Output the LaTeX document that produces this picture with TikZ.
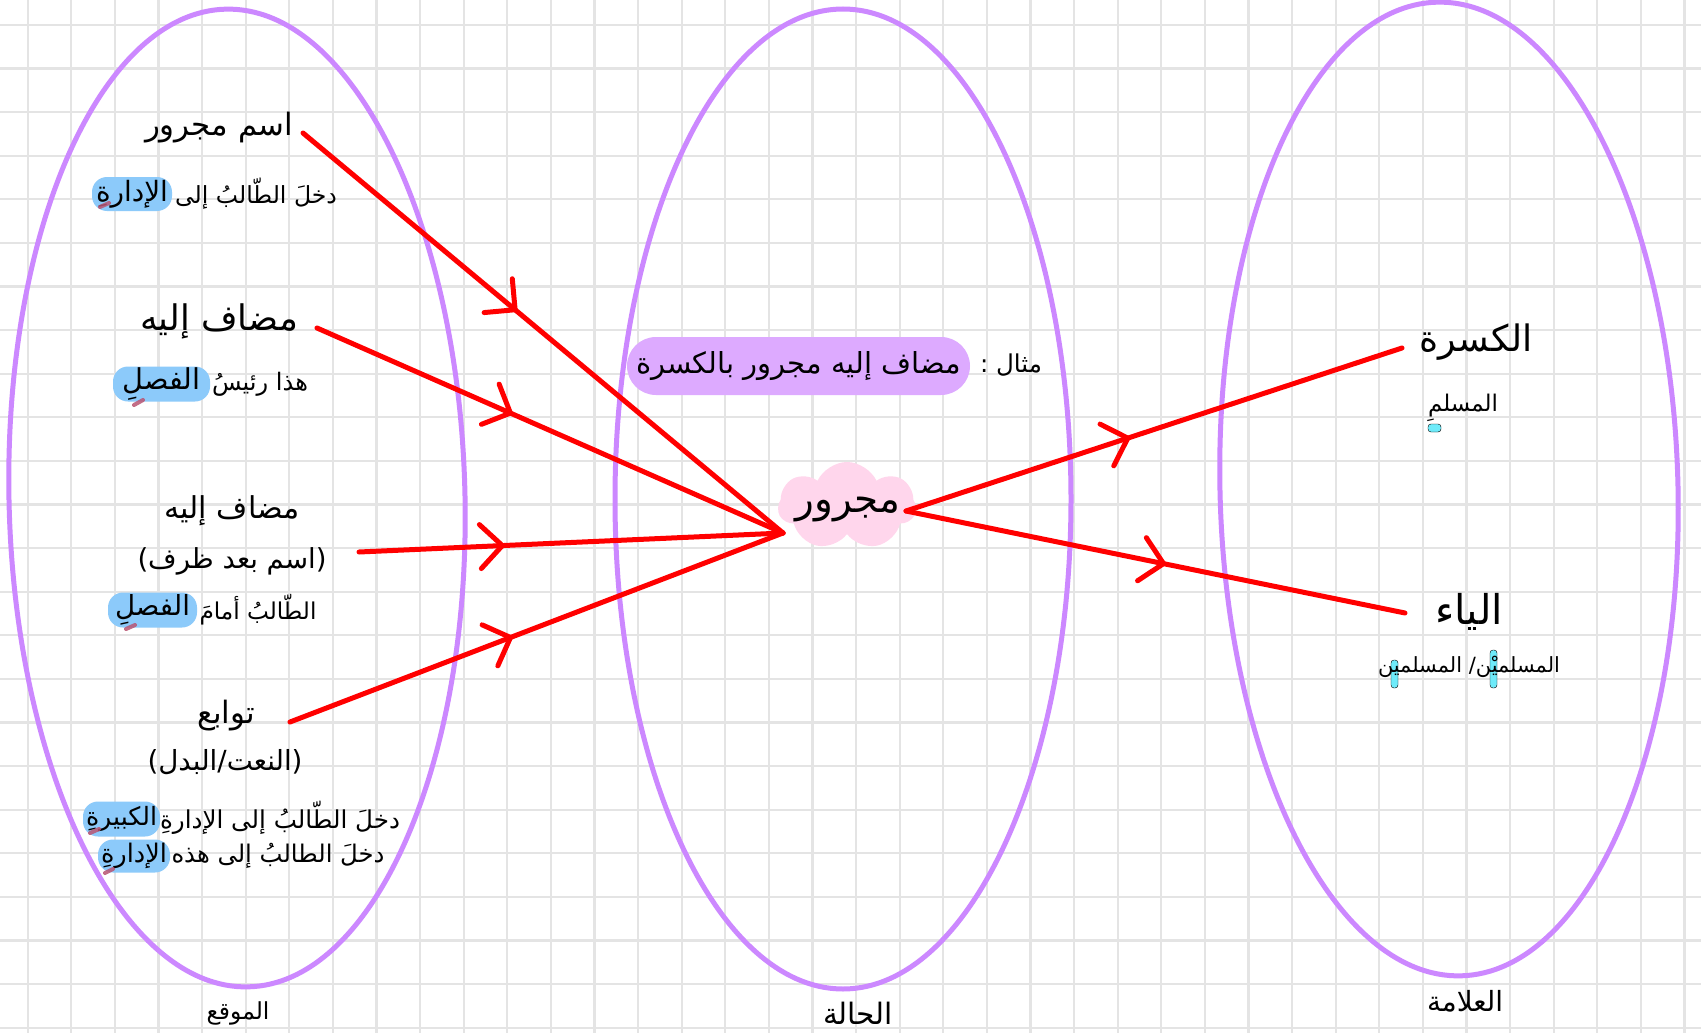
\documentclass[tikz,border=0pt]{standalone}
\usepackage{fontspec}
\usetikzlibrary{arrows.meta,decorations.markings,shapes.symbols}
\TeXXeTstate=1
\newfontfamily\arabicfont[Script=Arabic]{DejaVu Sans}
\newlength\arwd
\newcommand{\artxt}[2]{%
  \settowidth\arwd{\arabicfont\fontsize{10pt}{12pt}\selectfont #2}%
  \pgfmathsetmacro\arsz{10*#1/\arwd}%
  {\arabicfont\fontsize{\arsz pt}{\arsz pt}\selectfont #2}}
\definecolor{gridgray}{RGB}{228,228,228}
\definecolor{ellpurple}{RGB}{204,136,255}
\definecolor{myred}{RGB}{255,0,0}
\definecolor{hlblue}{RGB}{140,202,250}
\definecolor{hlpurple}{RGB}{221,170,255}
\definecolor{cloudpink}{RGB}{255,214,236}
\definecolor{kasracol}{RGB}{185,85,115}
\definecolor{cyanmk}{RGB}{110,235,250}
\tikzset{
  txt/.style={inner sep=0pt},
  hlb/.style={fill=hlblue, rounded corners=15pt, inner sep=0pt},
  hlp/.style={fill=hlpurple, rounded corners=29pt, inner sep=0pt},
  ell/.style={draw=ellpurple, line width=5pt},
  redline/.style={myred, line width=5pt, line cap=round, postaction={decorate},
    decoration={markings, mark=at position #1 with {\arrow{Straight Barb[length=22pt,width=44pt,round]}}}},
  kmark/.style={draw=kasracol, line width=4pt, line cap=round, opacity=0.85},
  cmark/.style={fill=cyanmk, rounded corners=3pt},
}
\begin{document}
\begin{tikzpicture}[x=1pt,y=-1pt]
\useasboundingbox (0,0) rectangle (1701,1033);
\fill[white] (0,0) rectangle (1701,1033);
% grid
\foreach \k in {0,...,38} {\draw[gridgray, line width=2.2pt] ({27.7+43.6*\k},0) -- ({27.7+43.6*\k},1033);}
\foreach \k in {0,...,23} {\draw[gridgray, line width=2.2pt] (0,{24.9+43.6*\k}) -- (1701,{24.9+43.6*\k});}
% ellipses
\draw[ell, rotate around={1.3:(237,498)}] (237,498) ellipse [x radius=228, y radius=489];
\draw[ell] (843,499) ellipse [x radius=228, y radius=490];
\draw[ell, rotate around={1.4:(1449,489)}] (1449,489) ellipse [x radius=229, y radius=487];
% highlights and cloud
\node[hlb, minimum width=80pt, minimum height=34pt] (h1) at (132,194) {\artxt{72}{\beginR الإدارةِ\endR}};
\node[hlb, minimum width=97pt, minimum height=35pt] (h2) at (161.5,384) {\artxt{78}{\beginR الفصلِ\endR}};
\node[hlb, minimum width=89pt, minimum height=35pt] (h3) at (152.5,610) {\artxt{75}{\beginR الفصلِ\endR}};
\node[hlb, minimum width=77pt, minimum height=35pt] (h4) at (121.5,819) {\artxt{71}{\beginR الكبيرةِ\endR}};
\node[hlb, minimum width=72pt, minimum height=33pt] (h5) at (134,856) {\artxt{66}{\beginR الإدارةِ\endR}};
\node[hlp, minimum width=343pt, minimum height=58pt] (m2) at (798.5,366) {\artxt{325}{\beginR مضاف إليه مجرور بالكسرة\endR}};
\node[cloud, cloud puffs=7, cloud puff arc=130, cloud ignores aspect, fill=cloudpink, minimum width=138pt, minimum height=88pt, inner sep=0pt] (cl) at (847,506) {};
% kasra marks
\draw[kmark] (100,207) -- (109,203);
\draw[kmark] (134,405) -- (143,400);
\draw[kmark] (126,629) -- (135,625);
\draw[kmark] (90,833) -- (99,829);
\draw[kmark] (105,873) -- (113,869);
% cyan marks
\draw[cmark] (1428,424) rectangle (1441,432);
\draw[cmark] (1391,660) rectangle (1398,688);
\draw[cmark] (1490,650) rectangle (1497,688);
% left texts
\node[txt] (t1) at (219,128) {\artxt{148}{\beginR اسم مجرور\endR}};
\node[txt] (t2) at (256,194) {\artxt{162}{\beginR دخلَ الطّالبُ إلى\endR}};
\node[txt] (t3) at (219,321) {\artxt{158}{\beginR مضاف إليه\endR}};
\node[txt] (t4) at (260,384) {\artxt{96}{\beginR هذا رئيسُ\endR}};
\node[txt] (t5) at (232,511) {\artxt{135}{\beginR مضاف إليه\endR}};
\node[txt] (t6) at (232,561) {\artxt{189}{\beginR (اسم بعد ظرف)\endR}};
\node[txt] (t7) at (258,610) {\artxt{117}{\beginR الطّالبُ أمامَ\endR}};
\node[txt] (t8) at (226,716) {\artxt{58}{\beginR توابع\endR}};
\node[txt] (t9) at (225,762) {\artxt{155}{\beginR (النعت/البدل)\endR}};
\node[txt] (t10) at (280,818) {\artxt{240}{\beginR دخلَ الطّالبُ إلى الإدارةِ\endR}};
\node[txt] (t11) at (278,856) {\artxt{213}{\beginR دخلَ الطالبُ إلى هذه\endR}};
% middle texts
\node[txt] (m1) at (1011,365) {\artxt{62}{\beginR مثال :\endR}};
\node[txt] (mj) at (848,510) {\artxt{105}{\beginR مجرور\endR}};
% right texts
\node[txt] (r1) at (1476,342) {\artxt{113}{\beginR الكسرة\endR}};
\node[txt] (r2) at (1463,408) {\artxt{70}{\beginR المسلمِ\endR}};
\node[txt] (r3) at (1469,612) {\artxt{68}{\beginR الياء\endR}};
\node[txt] (r4) at (1469,667) {\artxt{182}{\beginR المسلميْن/ المسلمين\endR}};
% bottom labels
\node[txt] (b1) at (238,1013) {\artxt{63}{\beginR الموقع\endR}};
\node[txt] (b2) at (858,1013) {\artxt{70}{\beginR الحالة\endR}};
\node[txt] (b3) at (1465,1001) {\artxt{76}{\beginR العلامة\endR}};
% connectors
\coordinate (s1) at (303,133);
\coordinate (s2) at (317,328);
\coordinate (s3) at (359,552);
\coordinate (s4) at (290,722);
\coordinate (c) at (783,533);
\coordinate (r) at (906,511);
\coordinate (e1) at (1402,348);
\coordinate (e2) at (1405,613);
\draw[redline=0.446] (s1) -- (c);
\draw[redline=0.42] (s2) -- (c);
\draw[redline=0.344] (s3) -- (c);
\draw[redline=0.452] (s4) -- (c);
\draw[redline=0.452] (r) -- (e1);
\draw[redline=0.521] (r) -- (e2);
\end{tikzpicture}
\end{document}
